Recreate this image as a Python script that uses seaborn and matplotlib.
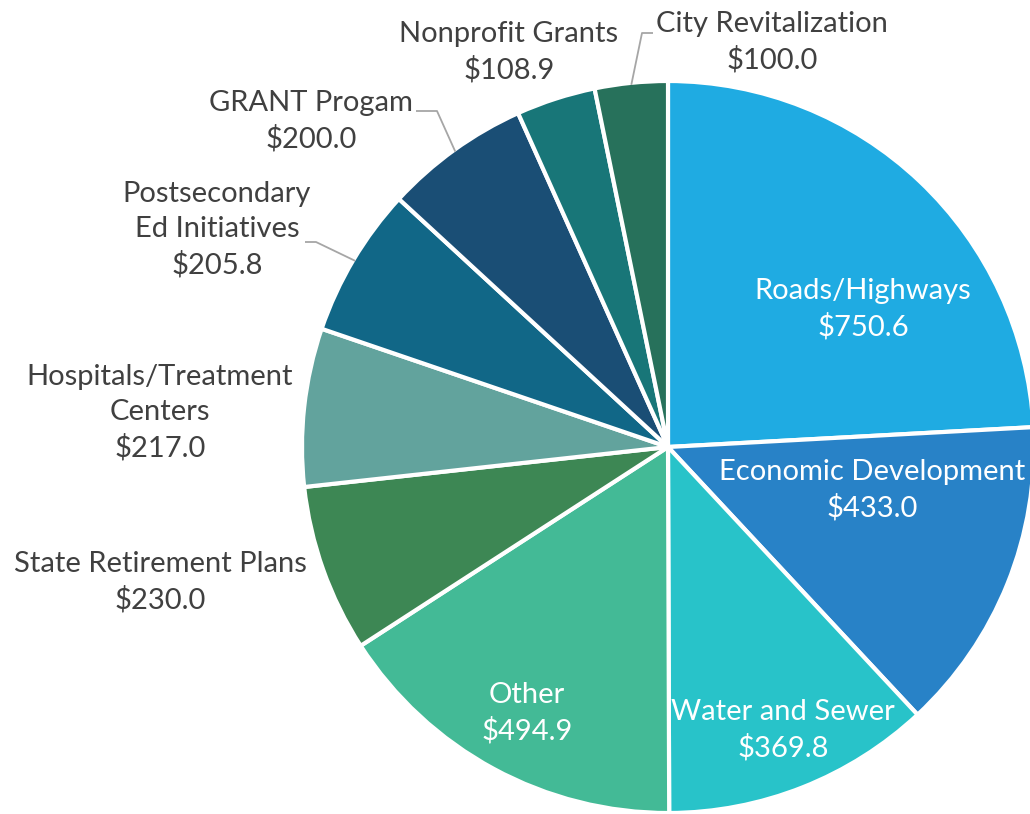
import numpy as np
import matplotlib
matplotlib.use("Agg")
import matplotlib.pyplot as plt
import seaborn as sns

categories = ["Roads/Highways", "Economic Development", "Water and Sewer", "Other",
              "State Retirement Plans", "Hospitals/Treatment\nCenters",
              "Postsecondary\nEd Initiatives", "GRANT Progam", "Nonprofit Grants",
              "City Revitalization"]
values = [750.6, 433.0, 369.8, 494.9, 230.0, 217.0, 205.8, 200.0, 108.9, 100.0]
colors = ["#1FABE2", "#2882C7", "#28C3C9", "#43BA96", "#3D8754", "#62A39D",
          "#116787", "#1A4E75", "#187678", "#27715B"]

sns.set_theme(style="white")
plt.rcParams['font.family'] = ['Lato', 'DejaVu Sans']

W, H = 1030, 814
fig = plt.figure(figsize=(W / 100, H / 100), dpi=100)
ax = fig.add_axes([0, 0, 1, 1])

cx, cy, R = 668, H - 447, 366
ax.pie(values, colors=colors, startangle=90, counterclock=False,
       center=(cx, cy), radius=R, frame=True,
       wedgeprops=dict(edgecolor='white', linewidth=3))
ax.set_xlim(0, W)
ax.set_ylim(0, H)
ax.set_aspect('equal')
ax.axis('off')

# label layout (image pixel coords of label centre), inside flag, leader elbow
layout = [
    (863, 309, True, None),
    (872, 490, True, None),
    (783, 730, True, None),
    (527, 713, True, None),
    (160, 582, False, None),
    (160, 413, False, None),
    (217, 230, False, (316, 242, 305)),
    (311, 121, False, (437, 111, 416)),
    (509, 52, False, None),
    (772, 42, False, (642, 33, 653)),
]

total = sum(values)
cum = 0
for cat, v, lay in zip(categories, values, layout):
    mid = (cum + v / 2) / total * 360
    cum += v
    lx, ly, inside, elbow = lay
    txt = f"{cat}\n${v:,.1f}"
    ax.text(lx, H - ly, txt, ha='center', va='center', fontsize=21,
            color='white' if inside else '#404040', linespacing=1.42)
    if elbow is not None:
        ang = np.deg2rad(90 - mid)
        sx = cx + (R - 2) * np.cos(ang)
        sy = cy + (R - 2) * np.sin(ang)
        ex, ey, hx = elbow
        ax.plot([sx, ex, hx], [sy, H - ey, H - ey], color='#A6A6A6', lw=1.3,
                solid_capstyle='butt')

fig.savefig("out.png", dpi=100)
